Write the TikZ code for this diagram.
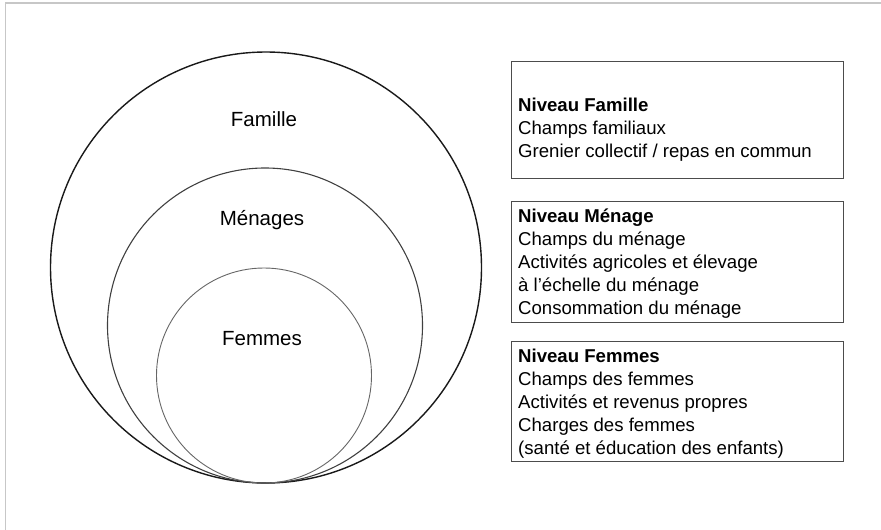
\documentclass[tikz,border=0pt]{standalone}
\usepackage{fontspec}
\setmainfont{Liberation Sans}
\begin{document}
\begin{tikzpicture}[x=1pt,y=-1pt,
  ring/.style={circle,draw,inner sep=0pt},
  lvlbox/.style={draw=black!70,line width=1.4pt,rectangle,inner sep=0pt,anchor=north west},
  lvltext/.style={anchor=north west,inner sep=0pt,align=left,font=\fontsize{18.6}{23.1}\selectfont},
  circlabel/.style={anchor=base,inner sep=0pt,font=\fontsize{20.5}{24}\selectfont},
  framel/.style={draw=black!22,line width=1.2pt}]
\useasboundingbox (0,0) rectangle (881,530);
\coordinate (fa) at (5.5,530);
\coordinate (fb) at (5.5,3);
\coordinate (fc) at (881,3);
\draw[framel] (fa) -- (fb) -- (fc);
% circles
\node[ring,line width=1.4pt,draw=black!90,minimum size=431pt] (famille) at (266,267.5) {};
\node[ring,line width=1.1pt,draw=black!75,minimum size=315pt] (menages) at (265,325.5) {};
\node[ring,line width=0.9pt,draw=black!60,minimum size=215pt] (femmes) at (264,375.5) {};
\node[circlabel] (lfam) at (264,126) {Famille};
\node[circlabel] (lmen) at (262,225) {Ménages};
\node[circlabel] (lfem) at (262,345) {Femmes};
% boxes
\node[lvlbox,minimum width=332pt,minimum height=117pt] (b1) at (511,61) {};
\node[lvlbox,minimum width=332pt,minimum height=121pt] (b2) at (511,201) {};
\node[lvlbox,minimum width=332pt,minimum height=120pt] (b3) at (511,341) {};
\node[lvltext] (t1) at (518,97.6) {\textbf{Niveau Famille}\\Champs familiaux\\Grenier collectif / repas en commun};
\node[lvltext] (t2) at (518,208.6) {\textbf{Niveau Ménage}\\Champs du ménage\\Activités agricoles et élevage\\à l’échelle du ménage\\Consommation du ménage};
\node[lvltext] (t3) at (518,348.6) {\textbf{Niveau Femmes}\\Champs des femmes\\Activités et revenus propres\\Charges des femmes\\(santé et éducation des enfants)};
\end{tikzpicture}
\end{document}
